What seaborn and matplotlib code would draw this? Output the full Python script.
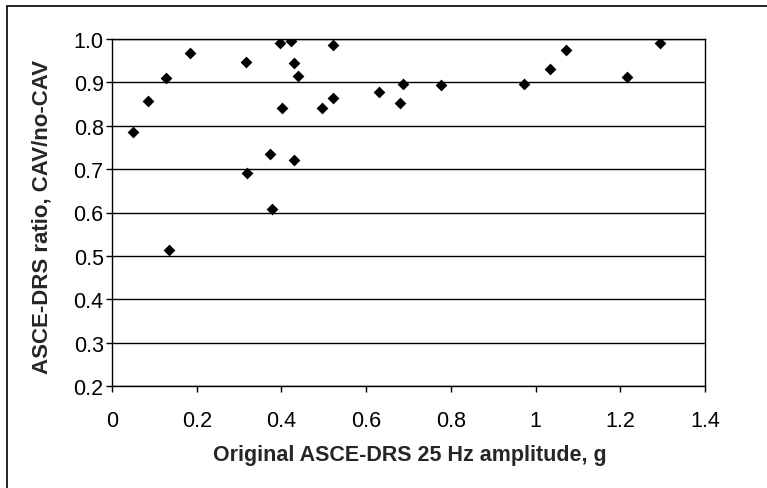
import matplotlib
matplotlib.use("Agg")
import matplotlib.pyplot as plt
from matplotlib.patches import Rectangle
import seaborn as sns
import pandas as pd

# Original 25 Hz amplitude (g) and the CAV / no-CAV ratio for each record
amplitude = [0.050, 0.086, 0.127, 0.135, 0.184, 0.316, 0.318, 0.373, 0.378,
             0.397, 0.401, 0.423, 0.430, 0.430, 0.438, 0.495, 0.522, 0.522,
             0.631, 0.680, 0.688, 0.777, 0.973, 1.034, 1.073, 1.215, 1.294]
ratio = [0.786, 0.857, 0.909, 0.514, 0.968, 0.947, 0.691, 0.734, 0.607,
         0.991, 0.842, 0.995, 0.945, 0.720, 0.915, 0.841, 0.987, 0.864,
         0.878, 0.853, 0.897, 0.894, 0.897, 0.931, 0.975, 0.912, 0.991]

x_ticks = [0, 0.2, 0.4, 0.6, 0.8, 1.0, 1.2, 1.4]
x_tick_labels = ["0", "0.2", "0.4", "0.6", "0.8", "1", "1.2", "1.4"]
y_ticks = [0.2, 0.3, 0.4, 0.5, 0.6, 0.7, 0.8, 0.9, 1.0]
y_tick_labels = ["0.2", "0.3", "0.4", "0.5", "0.6", "0.7", "0.8", "0.9", "1.0"]

x_title = "Original ASCE-DRS 25 Hz amplitude, g"
y_title = "ASCE-DRS ratio, CAV/no-CAV"

df = pd.DataFrame({"amp": amplitude, "ratio": ratio})

sns.set_style("white")
plt.rcParams["font.family"] = ["Liberation Sans", "DejaVu Sans"]

fig = plt.figure(figsize=(7.67, 4.89), dpi=100)
ax = fig.add_axes([112 / 767, 1 - 387 / 489, (705 - 112) / 767, (387 - 40) / 489])

sns.scatterplot(data=df, x="amp", y="ratio", ax=ax, marker="D", s=36,
                color="black", edgecolor="black", linewidth=0, zorder=3)

ax.set_xlim(0, 1.4)
ax.set_ylim(0.2, 1.0)
ax.set_xticks(x_ticks)
ax.set_xticklabels(x_tick_labels)
ax.set_yticks(y_ticks)
ax.set_yticklabels(y_tick_labels)
ax.tick_params(axis="both", labelsize=15.5, colors="black")
ax.tick_params(axis="x", direction="out", length=4.5, width=1, pad=13, bottom=True)
ax.tick_params(axis="y", direction="out", length=4, width=1, pad=2, left=True)

ax.yaxis.grid(True, color="black", linewidth=1)
ax.xaxis.grid(False)
ax.set_axisbelow(True)
for side in ["left", "right", "top", "bottom"]:
    ax.spines[side].set_visible(True)
    ax.spines[side].set_color("black")
    ax.spines[side].set_linewidth(1)

ax.set_xlabel(x_title, fontsize=15.5, fontweight="bold")
ax.set_ylabel(y_title, fontsize=16, fontweight="bold")
ax.xaxis.set_label_coords(0.502, -0.167)
ax.yaxis.set_label_coords(-0.101, 0.49)

# outer chart frame
fig.patches.append(Rectangle((7 / 767, -0.5), 2.0, 1.5 - 7 / 489,
                             transform=fig.transFigure, fill=False,
                             edgecolor="black", linewidth=1.2))

fig.savefig("out.png", dpi=100, facecolor="white")
